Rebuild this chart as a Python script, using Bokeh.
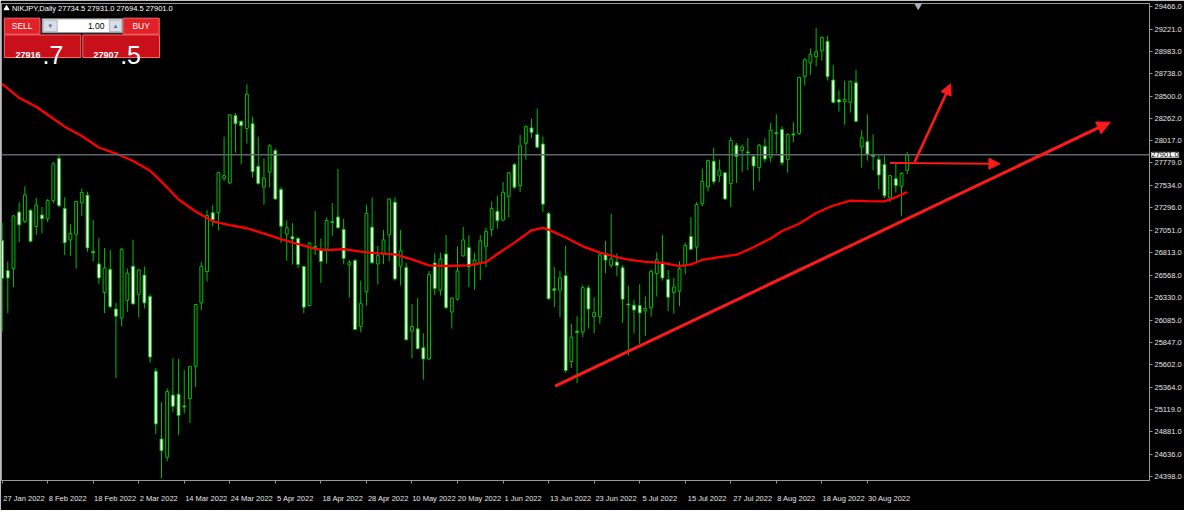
from bokeh.plotting import figure
from bokeh.models import (Range1d, FixedTicker, Span, Label, Arrow, NormalHead,
                          ColumnDataSource, LinearAxis)
from bokeh.embed import file_html
from bokeh.resources import INLINE
from bokeh.core.properties import value

# ---------------- data (NIKJPY daily) ----------------
OPEN = [26977, 26653, 26674, 27284, 27184, 27305, 27129, 27253, 27212, 27408,
        27863, 27325, 26984, 27046, 27384, 27467, 26860, 26726, 26419, 26667,
        26239, 26143, 26333, 26701, 26398, 26605, 26374, 25570, 24839, 24643,
        25312, 25322, 25195, 25274, 25622, 26305, 26643, 27277, 27277, 27650,
        27598, 28325, 28263, 28184, 28236, 27777, 27553, 27715, 27946, 27529,
        27046, 27022, 27001, 26698, 26277, 26912, 26874, 26884, 27181, 27232,
        27098, 26715, 26763, 26053, 26425, 27122, 26726, 26829, 27039, 27391,
        26701, 26688, 26001, 26026, 25822, 25701, 26736, 26443, 26832, 26208,
        26346, 26812, 26901, 26715, 26743, 26915, 27098, 27294, 27198, 27450,
        27798, 27570, 28025, 28191, 28122, 28018, 27270, 26457, 26443, 26598,
        25674, 26001, 25991, 26467, 26157, 26157, 26836, 26712, 26746, 26684,
        26294, 26281, 26277, 26219, 26253, 26622, 26743, 26557, 26419, 26432,
        26708, 27022, 26908, 27374, 27556, 27832, 27674, 27708, 27591, 28005,
        27949, 27932, 27884, 27763, 27994, 27874, 28139, 28174, 27850, 28125,
        28132, 28746, 28891, 28960, 29022, 29125, 28708, 28494, 28474, 28467,
        28677, 27987, 28043, 27898, 27850, 27798, 27436, 27643, 27563, 27734.5]
HIGH = [27167, 26753, 27250, 27391, 27563, 27312, 27439, 27339, 27425, 27822,
        27898, 27443, 27157, 27408, 27539, 27505, 27201, 27005, 26898, 26874,
        26305, 26898, 26677, 26988, 26667, 26698, 26398, 25605, 25236, 25384,
        25708, 25701, 25581, 25625, 26294, 26746, 27305, 27363, 27719, 28098,
        28339, 28350, 28270, 28660, 28312, 28098, 27863, 28019, 27967, 27553,
        27194, 27167, 27012, 26705, 26960, 27294, 27001, 27226, 27381, 27750,
        27212, 26770, 26777, 26546, 27363, 27443, 26919, 27091, 27432, 27443,
        27091, 26736, 26295, 26357, 25977, 26650, 26839, 26846, 27036, 26365,
        26915, 27125, 27036, 26846, 27036, 27115, 27401, 27460, 27608, 27719,
        27812, 28115, 28218, 28291, 28401, 28098, 27287, 26694, 26650, 26922,
        26081, 26163, 26494, 26494, 26367, 26839, 26974, 27267, 26839, 26712,
        26488, 26339, 26505, 26374, 26667, 26850, 27039, 26660, 26574, 26753,
        26953, 27229, 27391, 27753, 27850, 27977, 27850, 27715, 28091, 28029,
        28012, 28081, 27908, 28018, 28081, 28243, 28339, 28208, 28132, 28253,
        28743, 28943, 29046, 29270, 29177, 29184, 28867, 28598, 28701, 28701,
        28815, 28167, 28339, 28122, 27891, 27891, 27684, 27805, 27712, 27931]
LOW = [25995, 26195, 26477, 26960, 27167, 26960, 27036, 27053, 27177, 27384,
       27339, 26822, 26812, 26677, 27243, 26857, 26753, 26505, 26195, 26253,
       25495, 26053, 26208, 26288, 26150, 26246, 25660, 24891, 24419, 24598,
       25126, 24881, 25115, 25012, 25398, 26226, 26536, 27132, 27088, 27622,
       27591, 27925, 27798, 28022, 27656, 27581, 27363, 27553, 27419, 26953,
       26760, 26719, 26677, 26195, 26274, 26822, 26522, 26729, 27029, 27108,
       26722, 26363, 26012, 25988, 26277, 26726, 26505, 26726, 26753, 26546,
       26494, 25901, 25708, 25805, 25477, 25690, 26391, 26384, 26243, 26029,
       26329, 26805, 26474, 26446, 26553, 26691, 27022, 27105, 27184, 27229,
       27536, 27501, 27850, 28081, 27970, 27284, 26340, 26260, 26150, 25553,
       25605, 25439, 25936, 26029, 25977, 26081, 26625, 26684, 26591, 26091,
       25736, 25977, 25864, 25950, 26157, 26374, 26546, 26219, 26191, 26270,
       26615, 26874, 26743, 27346, 27505, 27581, 27608, 27415, 27339, 27598,
       27719, 27736, 27519, 27615, 27822, 27822, 27915, 27787, 27708, 28039,
       28115, 28649, 28763, 28856, 28915, 28701, 28453, 28367, 28225, 28356,
       28253, 27763, 27839, 27736, 27529, 27436, 27391, 27494, 27243, 27694.5]
CLOSE = [26570, 26574, 27243, 27146, 27470, 26970, 27360, 27212, 27408, 27805,
         27353, 26953, 27053, 27398, 27494, 26898, 26846, 26574, 26681, 26263,
         26163, 26884, 26626, 26295, 26660, 26305, 25722, 25001, 24712, 25350,
         25191, 25091, 25184, 25619, 26288, 26701, 27246, 27201, 27708, 27677,
         28332, 28236, 28215, 28556, 27719, 27591, 27650, 27998, 27425, 27132,
         27115, 26994, 26719, 26260, 26950, 26905, 26753, 27194, 27174, 27115,
         26784, 26743, 26019, 26298, 27270, 26739, 26815, 26984, 27425, 26564,
         26867, 25908, 26050, 25812, 25701, 26612, 26460, 26777, 26253, 26357,
         26650, 26984, 26694, 26767, 26974, 27077, 27322, 27191, 27498, 27708,
         27553, 27998, 28205, 28143, 27984, 27370, 26350, 26443, 26574, 25577,
         25936, 25988, 26470, 26239, 26201, 26822, 26767, 26781, 26708, 26346,
         26284, 26229, 26198, 26246, 26643, 26770, 26574, 26367, 26477, 26674,
         26925, 26884, 27367, 27615, 27839, 27612, 27736, 27425, 28056, 27884,
         27987, 27922, 27781, 28005, 27856, 28167, 28129, 27815, 28122, 28115,
         28736, 28925, 28984, 29011, 29167, 28743, 28467, 28470, 28501, 28694,
         28263, 28087, 27908, 27884, 27684, 27460, 27677, 27570, 27701, 27901]

# moving average (red line), read at selected bars
MA_IDX = [0, 3, 6, 9, 11, 14, 17, 20, 23, 26, 29, 31, 34, 37, 40, 43, 46, 49, 52, 55,
          57, 60, 63, 66, 69, 72, 75, 78, 82, 85, 87, 90, 93, 95, 96, 99, 102, 105, 108, 110,
          113, 116, 119, 121, 123, 126, 129, 132, 135, 137, 140, 143, 146, 149, 152, 155, 157, 159]
MA_VAL = [28667, 28515, 28420, 28290, 28205, 28105, 27980, 27915, 27835, 27730,
          27550, 27420, 27290, 27185, 27145, 27110, 27053, 26992, 26940, 26888,
          26874, 26884, 26858, 26840, 26829, 26775, 26710, 26703, 26710, 26745,
          26832, 26955, 27088, 27115, 27095, 27010, 26915, 26848, 26800, 26772,
          26748, 26736, 26703, 26720, 26770, 26800, 26825, 26905, 27000, 27080,
          27158, 27275, 27355, 27408, 27402, 27400, 27445, 27500]

DATE_IDX = [0, 8, 16, 24, 32, 40, 48, 56, 64, 72, 80, 88, 96, 104, 112, 120, 128, 136, 144, 152]
DATE_LABELS = ["27 Jan 2022", "8 Feb 2022", "18 Feb 2022", "2 Mar 2022", "14 Mar 2022",
               "24 Mar 2022", "5 Apr 2022", "18 Apr 2022", "28 Apr 2022", "10 May 2022",
               "20 May 2022", "1 Jun 2022", "13 Jun 2022", "23 Jun 2022", "5 Jul 2022",
               "15 Jul 2022", "27 Jul 2022", "8 Aug 2022", "18 Aug 2022", "30 Aug 2022"]
PRICE_LABELS = [29466.0, 29221.0, 28983.0, 28738.0, 28500.0, 28262.0, 28017.0, 27779.0,
                27534.0, 27296.0, 27051.0, 26813.0, 26568.0, 26330.0, 26085.0, 25847.0,
                25602.0, 25364.0, 25119.0, 24881.0, 24636.0, 24398.0]
LAST_PRICE = 27901.0
HEADER = "NIKJPY,Daily  27734.5 27931.0 27694.5 27901.0"
SELL_PRICE = ("27916", ".7")
BUY_PRICE = ("27907", ".5")
LOT = "1.00"

# ---------------- geometry helpers (reference pixel -> data) ----------------
PX_PER_BAR = 5.785
PX_PER_PT = 1 / 10.343


def px2x(px):
    return (px - 1.0) / PX_PER_BAR


def px2y(py):
    return LAST_PRICE - (py - 160.7) / PX_PER_PT


FONT = value("Liberation Sans")
GREEN = "#00c000"
AXIS_GREY = "#9a9a9a"
LABEL_COLOR = "#e6e6e6"

p = figure(width=1184, height=510,
           x_range=Range1d(px2x(0.4), px2x(1167)),
           y_range=Range1d(px2y(500), px2y(3)),
           y_axis_location="right",
           output_backend="svg", toolbar_location=None,
           background_fill_color="black", border_fill_color="black",
           min_border_left=1, min_border_right=33, min_border_top=3, min_border_bottom=24)
p.grid.visible = False
p.outline_line_color = AXIS_GREY

# ---- bottom axis: tick marks at the bars (labels drawn by a second axis) ----
p.xaxis.ticker = FixedTicker(ticks=DATE_IDX)
p.xaxis.major_label_overrides = {i: "" for i in DATE_IDX}
p.xaxis.major_label_text_font_size = "1px"
p.xaxis.major_label_standoff = 0
p.xaxis.major_tick_in = 0
p.xaxis.major_tick_out = 3
p.xaxis.minor_tick_line_color = None
p.xaxis.axis_line_color = AXIS_GREY
p.xaxis.major_tick_line_color = AXIS_GREY

# date labels start at their tick (terminal style): centre them half a label to the right
CHAR_W = 3.72
BAR_W = 1150 / (px2x(1167) - px2x(0.4))
lab_ticks = [round(i + (len(l) * CHAR_W / 2 + 1.5) / BAR_W, 3) for i, l in zip(DATE_IDX, DATE_LABELS)]
date_axis = LinearAxis(ticker=FixedTicker(ticks=lab_ticks),
                       major_label_overrides={t: l for t, l in zip(lab_ticks, DATE_LABELS)},
                       axis_line_color=None, major_tick_line_color=None,
                       minor_tick_line_color=None, major_label_standoff=4,
                       major_label_text_color=LABEL_COLOR,
                       major_label_text_font="Liberation Sans",
                       major_label_text_font_size="7.5px")
p.add_layout(date_axis, "below")

# ---- right price axis ----
LABEL_SHIFT = 35  # labels sit slightly above their price in the terminal
ytick = [v + LABEL_SHIFT for v in PRICE_LABELS]
p.yaxis.ticker = FixedTicker(ticks=ytick)
p.yaxis.major_label_overrides = {t: "%.1f" % v for t, v in zip(ytick, PRICE_LABELS)}
p.yaxis.major_label_standoff = 2
p.yaxis.major_tick_in = 0
p.yaxis.major_tick_out = 3
p.yaxis.minor_tick_line_color = None
p.yaxis.axis_line_color = AXIS_GREY
p.yaxis.major_tick_line_color = AXIS_GREY
p.yaxis.major_label_text_color = LABEL_COLOR
p.yaxis.major_label_text_font = "Liberation Sans"
p.yaxis.major_label_text_font_size = "7.5px"

# current price line
p.add_layout(Span(location=LAST_PRICE, dimension="width", line_color="#5f6670", line_width=1.5))

# candles
idx = list(range(len(OPEN)))
bull = [c >= o for o, c in zip(OPEN, CLOSE)]
src = ColumnDataSource(dict(
    x=idx, high=HIGH, low=LOW,
    top=[max(o, c) for o, c in zip(OPEN, CLOSE)],
    bottom=[min(o, c) for o, c in zip(OPEN, CLOSE)],
    fill=["black" if b else "white" for b in bull],
))
p.segment(x0="x", y0="low", x1="x", y1="high", source=src, line_color=GREEN, line_width=1)
p.vbar(x="x", top="top", bottom="bottom", width=0.5, source=src,
       fill_color="fill", line_color=GREEN, line_width=1)

# moving average
p.line(MA_IDX, MA_VAL, line_color="#ff0000", line_width=2.3)

# hand-drawn annotations
RED = "#ff1a1a"
p.add_layout(Arrow(x_start=px2x(563), y_start=px2y(401.7), x_end=px2x(1127), y_end=px2y(126.7),
                   line_color=RED, line_width=3,
                   end=NormalHead(size=13, fill_color=RED, line_color=RED)))
p.add_layout(Arrow(x_start=px2x(928.3), y_start=px2y(168.3), x_end=px2x(965), y_end=px2y(86.7),
                   line_color=RED, line_width=2.5,
                   end=NormalHead(size=11, fill_color=RED, line_color=RED)))
p.add_layout(Arrow(x_start=px2x(903.3), y_start=px2y(169.3), x_end=px2x(1015), y_end=px2y(170),
                   line_color=RED, line_width=2,
                   end=NormalHead(size=11, fill_color=RED, line_color=RED)))

# chart-shift marker
p.scatter([px2x(932)], [px2y(5)], marker="inverted_triangle", size=7,
          fill_color="#a8b0bc", line_color="#a8b0bc")

# last price tag on the price axis; kept in a side panel so it is not clipped to the frame
tag = Label(x=px2x(1167), y=LAST_PRICE, text="%.1f" % LAST_PRICE, x_offset=2,
            text_baseline="middle", text_align="left", text_font="Liberation Sans",
            text_font_size="7.5px", text_color="black",
            background_fill_color="white", border_line_color="#c0c0c0")
p.add_layout(tag, "below")

# header
p.scatter([px2x(5.5)], [px2y(8)], marker="triangle", size=5, fill_color="white", line_color="white")
p.text([px2x(11)], [px2y(8.5)], text=[HEADER], text_font=FONT, text_font_size="7.5px",
       text_color="white", text_baseline="middle")

# one-click trading panel
boxes = dict(
    left=[px2x(3.3), px2x(124), px2x(3.3), px2x(83)],
    right=[px2x(39.5), px2x(160.7), px2x(81), px2x(161)],
    top=[px2y(18.3), px2y(18.3), px2y(35.7), px2y(35.7)],
    bottom=[px2y(35), px2y(35), px2y(59.3), px2y(59.3)],
    fill=["#e22128", "#e22128", "#c8101a", "#c8101a"],
)
p.quad(left="left", right="right", top="top", bottom="bottom", fill_color="fill",
       line_color="#ff6a6a", line_width=1, source=ColumnDataSource(boxes))
p.quad(left=[px2x(41.7)], right=[px2x(123.3)], top=[px2y(19)], bottom=[px2y(33.5)],
       fill_color="white", line_color="#8a8a8a")
p.quad(left=[px2x(43), px2x(110)], right=[px2x(57), px2x(122.5)],
       top=[px2y(20.3), px2y(20.3)], bottom=[px2y(32.3), px2y(32.3)],
       fill_color="#d9dee6", line_color="#b0b6c0")
p.text([px2x(50), px2x(116.2)], [px2y(26.5), px2y(26.5)], text=["\u25be", "\u25b4"],
       text_font=value("DejaVu Sans"), text_font_size="7px", text_color="#5470a0",
       text_align="center", text_baseline="middle")
p.text([px2x(105)], [px2y(26.5)], text=[LOT], text_font=FONT, text_font_size="8.5px",
       text_color="black", text_align="right", text_baseline="middle")
p.text([px2x(21.4), px2x(142.3)], [px2y(26.7), px2y(26.7)], text=["SELL", "BUY"],
       text_font=FONT, text_font_size="8.5px", text_color="white",
       text_align="center", text_baseline="middle")
p.text([px2x(14.5), px2x(94)], [px2y(56.5), px2y(56.5)], text=[SELL_PRICE[0], BUY_PRICE[0]],
       text_font=FONT, text_font_size="9px", text_font_style="bold", text_color="white",
       text_baseline="alphabetic")
p.text([px2x(42), px2x(121)], [px2y(57), px2y(57)], text=[SELL_PRICE[1], BUY_PRICE[1]],
       text_font=FONT, text_font_size="25px", text_color="white",
       text_baseline="alphabetic")

open("out.html", "w").write(file_html(p, INLINE))
